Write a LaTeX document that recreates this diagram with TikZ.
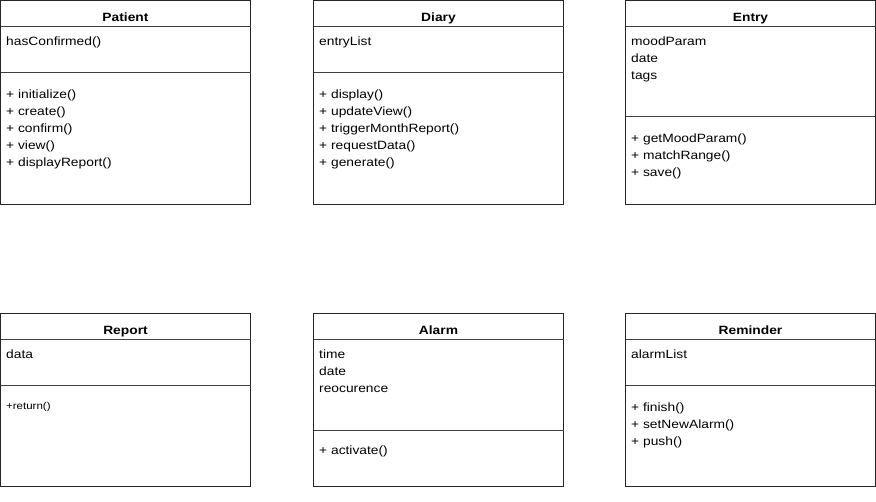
\documentclass[tikz,border=0pt]{standalone}
\usepackage{fontspec}
\setmainfont{Liberation Sans}[FakeStretch=1.15]
\begin{document}
\begin{tikzpicture}[x=1pt,y=-1pt,
  umlbox/.style={draw=black!85, line width=1pt, rectangle, inner sep=0pt, outer sep=0pt, anchor=north west},
  sep/.style={draw=black!75, line width=1pt},
  title/.style={anchor=base, inner sep=0pt, font=\fontsize{12}{14}\selectfont\bfseries},
  txt/.style={anchor=base west, inner sep=0pt, font=\fontsize{12}{14}\selectfont},
  small/.style={anchor=base west, inner sep=0pt, font=\fontsize{10}{12}\selectfont}]
\useasboundingbox[fill=white] (0,0) rectangle (876,501);

% ---------- Patient ----------
\node[umlbox, minimum width=250pt, minimum height=204pt] (patient) at (0.5,0.5) {};
\draw[sep] ([yshift=-26pt]patient.north west) -- ([yshift=-26pt]patient.north east);
\draw[sep] ([yshift=-72pt]patient.north west) -- ([yshift=-72pt]patient.north east);
\node[title] (patient-t) at (125.5,21) {Patient};
\node[txt] (patient-a1) at (6,45) {hasConfirmed()};
\foreach \t [count=\i] in {{+ initialize()},{+ create()},{+ confirm()},{+ view()},{+ displayReport()}}
  \node[txt] (patient-m\i) at (6,{98+17*(\i-1)}) {\t};

% ---------- Diary ----------
\node[umlbox, minimum width=250pt, minimum height=204pt] (diary) at (313.5,0.5) {};
\draw[sep] ([yshift=-26pt]diary.north west) -- ([yshift=-26pt]diary.north east);
\draw[sep] ([yshift=-72pt]diary.north west) -- ([yshift=-72pt]diary.north east);
\node[title] (diary-t) at (438.5,21) {Diary};
\node[txt] (diary-a1) at (319,45) {entryList};
\foreach \t [count=\i] in {{+ display()},{+ updateView()},{+ triggerMonthReport()},{+ requestData()},{+ generate()}}
  \node[txt] (diary-m\i) at (319,{98+17*(\i-1)}) {\t};

% ---------- Entry ----------
\node[umlbox, minimum width=250pt, minimum height=204pt] (entry) at (625.5,0.5) {};
\draw[sep] ([yshift=-26pt]entry.north west) -- ([yshift=-26pt]entry.north east);
\draw[sep] ([yshift=-116pt]entry.north west) -- ([yshift=-116pt]entry.north east);
\node[title] (entry-t) at (750.5,21) {Entry};
\foreach \t [count=\i] in {moodParam,date,tags}
  \node[txt] (entry-a\i) at (631,{45+17*(\i-1)}) {\t};
\foreach \t [count=\i] in {{+ getMoodParam()},{+ matchRange()},{+ save()}}
  \node[txt] (entry-m\i) at (631,{142+17*(\i-1)}) {\t};

% ---------- Report ----------
\node[umlbox, minimum width=250pt, minimum height=173pt] (report) at (0.5,313.5) {};
\draw[sep] ([yshift=-25.5pt]report.north west) -- ([yshift=-25.5pt]report.north east);
\draw[sep] ([yshift=-72pt]report.north west) -- ([yshift=-72pt]report.north east);
\node[title] (report-t) at (125.5,334) {Report};
\node[txt] (report-a1) at (6,358) {data};
\node[small] (report-m1) at (6,409.5) {+return()};

% ---------- Alarm ----------
\node[umlbox, minimum width=250pt, minimum height=173pt] (alarm) at (313.5,313.5) {};
\draw[sep] ([yshift=-25.5pt]alarm.north west) -- ([yshift=-25.5pt]alarm.north east);
\draw[sep] ([yshift=-116.5pt]alarm.north west) -- ([yshift=-116.5pt]alarm.north east);
\node[title] (alarm-t) at (438.5,334) {Alarm};
\foreach \t [count=\i] in {time,date,reocurence}
  \node[txt] (alarm-a\i) at (319,{358+17*(\i-1)}) {\t};
\node[txt] (alarm-m1) at (319,454) {+ activate()};

% ---------- Reminder ----------
\node[umlbox, minimum width=250pt, minimum height=173pt] (reminder) at (625.5,313.5) {};
\draw[sep] ([yshift=-25.5pt]reminder.north west) -- ([yshift=-25.5pt]reminder.north east);
\draw[sep] ([yshift=-72pt]reminder.north west) -- ([yshift=-72pt]reminder.north east);
\node[title] (reminder-t) at (750.5,334) {Reminder};
\node[txt] (reminder-a1) at (631,358) {alarmList};
\foreach \t [count=\i] in {{+ finish()},{+ setNewAlarm()},{+ push()}}
  \node[txt] (reminder-m\i) at (631,{411+17*(\i-1)}) {\t};
\end{tikzpicture}
\end{document}
